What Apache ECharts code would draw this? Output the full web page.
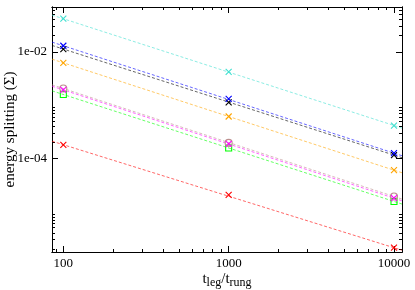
<!DOCTYPE html>
<html><head><meta charset="utf-8">
<script src="https://cdn.jsdelivr.net/npm/echarts@6/dist/echarts.min.js"></script>
<style>html,body{margin:0;padding:0;background:#fff}#c{width:415px;height:290px}</style>
</head><body><div id="c"></div>
<script>
// ---- data ----
const xValues = [100, 1000, 10000];
const cyanPts    = [0.0417, 4.21e-3, 4.13e-4];
const bluePts    = [0.01297, 1.31e-3, 1.25e-4];
const blackPts   = [0.01124, 1.12e-3, 1.15e-4];
const orangePts  = [6.21e-3, 6.1e-4, 6.0e-5];
const magentaPts = [1.93e-3, 1.87e-4, 1.79e-5];
const brownPts   = [2.05e-3, 1.95e-4, 1.92e-5];
const greenPts   = [1.58e-3, 1.56e-4, 1.55e-5];
const redPts     = [1.79e-4, 2.07e-5, 2.11e-6];

// dashed fit lines, read at the left and right edges of the plot
const fitX = [85.4, 11180];
const cyanFit    = [0.0488, 3.70e-4];
const blueFit    = [0.01519, 1.12e-4];
const blackFit   = [0.01316, 1.03e-4];
const orangeFit  = [7.27e-3, 5.37e-5];
const magentaFit = [2.26e-3, 1.60e-5];
const brownFit   = [2.40e-3, 1.72e-5];
const greenFit   = [1.85e-3, 1.39e-5];
const redFit     = [2.10e-4, 1.89e-6];

// ticks
const xMajorTicks = [100, 1000, 10000];
const xMinorTicks = [90, 200, 300, 400, 500, 600, 700, 800, 900, 2000, 3000, 4000, 5000, 6000, 7000, 8000, 9000];
const yLabelTicks = [1e-4, 1e-2];
const yMinorTicks = [2e-6, 3e-6, 4e-6, 5e-6, 6e-6, 7e-6, 8e-6, 9e-6,
                     2e-4, 3e-4, 4e-4, 5e-4, 6e-4, 7e-4, 8e-4, 9e-4,
                     2e-2, 3e-2, 4e-2, 5e-2, 6e-2];
const xRange = [85.4, 11180];
const yRange = [1.75e-6, 0.0692];

// ---- chart ----
const FONT = '"Liberation Serif", "DejaVu Serif", serif';
const crossPath = 'path://M0 0L10 10M10 0L0 10';

function fmtY(v) {
  const s = Number(v).toExponential(0); // e.g. 1e-2
  return s.replace(/e([+-])(\d)$/, 'e$10$2');
}

function xAx(pos, ticks, len, showLabel, extra) {
  return Object.assign({
    type: 'log', min: xRange[0], max: xRange[1], position: pos,
    axisLine: { show: true, lineStyle: { color: '#000', width: 1 } },
    axisTick: { show: true, inside: true, length: len, customValues: ticks, lineStyle: { color: '#000', width: 1 } },
    axisLabel: showLabel ? { show: true, customValues: ticks, margin: 5, fontFamily: FONT, fontSize: 13, color: '#000',
      formatter: v => String(Math.round(v)) } : { show: false },
    splitLine: { show: false }, minorTick: { show: false }, minorSplitLine: { show: false }
  }, extra || {});
}
function yAx(pos, ticks, len, showLabel, extra) {
  return Object.assign({
    type: 'log', min: yRange[0], max: yRange[1], position: pos,
    axisLine: { show: true, lineStyle: { color: '#000', width: 1 } },
    axisTick: { show: true, inside: true, length: len, customValues: ticks, lineStyle: { color: '#000', width: 1 } },
    axisLabel: showLabel ? { show: true, customValues: ticks, margin: 5, fontFamily: FONT, fontSize: 13, color: '#000',
      formatter: fmtY } : { show: false },
    splitLine: { show: false }, minorTick: { show: false }, minorSplitLine: { show: false }
  }, extra || {});
}

const groups = [
  { pts: cyanPts,    fit: cyanFit,    color: '#40e0d0', sym: crossPath,     size: 6 },
  { pts: blackPts,   fit: blackFit,   color: '#000000', sym: crossPath,     size: 6 },
  { pts: bluePts,    fit: blueFit,    color: '#0000ff', sym: crossPath,     size: 6 },
  { pts: orangePts,  fit: orangeFit,  color: '#ffa500', sym: crossPath,     size: 6 },
  { pts: greenPts,   fit: greenFit,   color: '#00ff00', sym: 'rect',        size: 6 },
  { pts: brownPts,   fit: brownFit,   color: '#bc8f8f', sym: 'circle',      size: 7 },
  { pts: magentaPts, fit: magentaFit, color: '#ff00ff', sym: crossPath,     size: 6 },
  { pts: redPts,     fit: redFit,     color: '#ff0000', sym: crossPath,     size: 6 }
];

const series = [];
groups.forEach(g => {
  series.push({
    type: 'line', xAxisIndex: 0, yAxisIndex: 0, silent: true,
    data: fitX.map((x, i) => [x, g.fit[i]]),
    symbol: 'none',
    lineStyle: { color: g.color, width: 1, type: [3, 2], opacity: 0.6 },
    z: 2
  });
});
groups.forEach(g => {
  series.push({
    type: 'scatter', xAxisIndex: 0, yAxisIndex: 0, silent: true,
    data: xValues.map((x, i) => [x, g.pts[i]]),
    symbol: g.sym, symbolSize: g.size,
    itemStyle: { color: 'none', borderColor: g.color, borderWidth: 1.1, opacity: 1 },
    z: 3
  });
});

const chart = echarts.init(document.getElementById('c'), null, { renderer: 'canvas' });
chart.setOption({
  animation: false,
  backgroundColor: '#fff',
  grid: { left: 52, right: 13, top: 7, bottom: 38, containLabel: false, outerBoundsMode: 'none' },
  xAxis: [
    xAx('bottom', xMajorTicks, 6, true, {
      name: 't{sub|leg}/t{sub|rung}', nameLocation: 'middle', nameGap: 18, nameMoveOverlap: false,
      nameTextStyle: { fontFamily: FONT, fontSize: 15, color: '#000',
        rich: { sub: { fontFamily: FONT, fontSize: 12, color: '#000', verticalAlign: 'bottom', padding: [7, 0, 0, 0] } } }
    }),
    xAx('bottom', xMinorTicks, 3, false),
    xAx('top', xMajorTicks, 6, false),
    xAx('top', xMinorTicks, 3, false)
  ],
  yAxis: [
    yAx('left', yLabelTicks, 6, true, {
      name: 'energy splitting (Σ)', nameLocation: 'middle', nameGap: 34, nameRotate: 90, nameMoveOverlap: false,
      nameTextStyle: { fontFamily: FONT, fontSize: 15, color: '#000' }
    }),
    yAx('left', yMinorTicks, 3, false),
    yAx('right', yLabelTicks, 6, false),
    yAx('right', yMinorTicks, 3, false)
  ],
  series: series
});
</script>
</body></html>
